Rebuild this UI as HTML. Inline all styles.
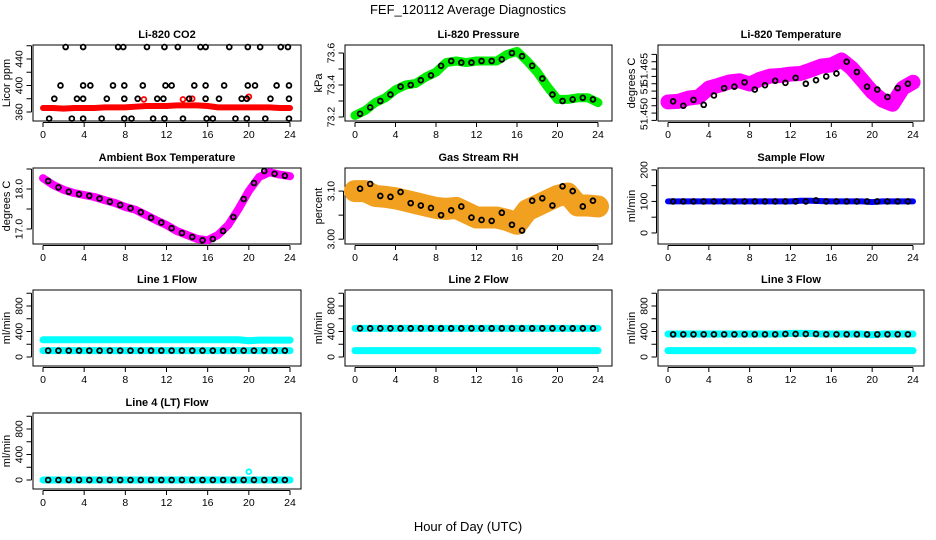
<!DOCTYPE html>
<html><head><meta charset="utf-8">
<style>
html,body{margin:0;padding:0;background:#fff;}
svg{display:block;font-family:"Liberation Sans",sans-serif;}
</style></head>
<body>
<svg id="chart" width="936" height="540" viewBox="0 0 936 540" xmlns="http://www.w3.org/2000/svg">
<text x="468" y="14" text-anchor="middle" font-size="13">FEF_120112  Average Diagnostics</text>
<text x="468" y="531" text-anchor="middle" font-size="13">Hour of Day (UTC)</text>
</svg>
<script>
// ---- data ----
const hours = [0,1,2,3,4,5,6,7,8,9,10,11,12,13,14,15,16,17,18,19,20,21,22,23,24];
const halfHours = [0.5,1.5,2.5,3.5,4.5,5.5,6.5,7.5,8.5,9.5,10.5,11.5,12.5,13.5,14.5,15.5,16.5,17.5,18.5,19.5,20.5,21.5,22.5,23.5];
const xTicks = [0,4,8,12,16,20,24];

const co2Dense = [366,366,365,366,366,366,367,367,367,368,369,369,369,370,370,370,369,367,367,367,367,367,367,366,366];
const co2RedTimes = [9.8,13.6,14.5,20.0];
const co2RedValues = [379,379,380,383];
const co2BlackTimes = [2.2,3.9,7.3,7.8,10.1,11.8,13.1,15.3,15.8,18.1,19.9,21.1,23.1,23.8,
 1.7,3.9,4.6,6.8,7.9,9.7,11.9,12.5,14.7,15.8,17.6,19.9,20.6,22.7,23.9,
 1.1,3.3,3.9,6.2,7.9,9.2,11.1,11.7,14.2,15.8,17.1,19.3,19.8,22.1,23.9,
 0.6,2.8,3.9,5.7,7.9,8.6,10.7,11.8,13.6,15.9,16.5,18.7,19.8,21.6,23.9];
const co2BlackValues = [458,458,458,458,458,458,458,458,458,458,458,458,458,458,
 400,400,400,400,400,400,400,400,400,400,400,400,400,400,400,
 380,380,380,380,380,380,380,380,380,380,380,380,380,380,380,
 350,350,350,350,350,350,350,350,350,350,350,350,350,350,350];

const presDense = [73.21,73.24,73.29,73.32,73.37,73.40,73.41,73.45,73.48,73.54,73.55,73.54,73.55,73.55,73.55,73.59,73.61,73.55,73.48,73.39,73.31,73.31,73.32,73.32,73.29];
const presBlack = [73.22,73.26,73.30,73.34,73.39,73.40,73.43,73.46,73.52,73.55,73.54,73.54,73.55,73.55,73.56,73.60,73.58,73.52,73.44,73.34,73.30,73.31,73.32,73.31];

const tempDense = [51.4538,51.4540,51.4551,51.4555,51.4585,51.4595,51.4606,51.4610,51.4599,51.4615,51.4626,51.4628,51.4633,51.4635,51.4647,51.4660,51.4664,51.4681,51.4653,51.4613,51.4572,51.4544,51.4530,51.4585,51.4605];
const tempBlack = [51.4540,51.4525,51.4545,51.4528,51.4560,51.4585,51.4590,51.4605,51.4580,51.4595,51.4610,51.4603,51.4620,51.4600,51.4612,51.4625,51.4635,51.4675,51.4640,51.4590,51.4580,51.4555,51.4585,51.4600];

const ambDense = [18.27,18.1,17.98,17.9,17.85,17.8,17.72,17.65,17.55,17.48,17.35,17.22,17.1,16.95,16.85,16.75,16.72,16.85,17.1,17.5,17.95,18.3,18.42,18.36,18.32];
const ambBlack = [18.2,18.04,17.93,17.87,17.83,17.76,17.68,17.6,17.52,17.42,17.28,17.16,17.02,16.9,16.8,16.72,16.75,16.95,17.3,17.75,18.15,18.45,18.38,18.33];

const rhDense = [3.10,3.10,3.09,3.088,3.085,3.08,3.075,3.07,3.065,3.063,3.065,3.055,3.045,3.045,3.045,3.04,3.032,3.06,3.07,3.08,3.09,3.095,3.07,3.07,3.068];
const rhBlack = [3.105,3.115,3.09,3.088,3.098,3.075,3.07,3.065,3.05,3.06,3.068,3.045,3.04,3.038,3.055,3.03,3.018,3.08,3.085,3.07,3.11,3.10,3.068,3.08];

const sampleDense = [100,100,100,100,100,100,100,100,100,100,100,100,100,102,102,101,100,100,100,100,98,100,100,100,100];
const sampleBlack = [100,100,100,100,100,100,100,100,100,100,100,100,100,100,103,100,100,100,100,100,100,100,100,100];

const line1CyanA = [270,270,270,270,270,270,270,270,270,270,270,270,270,270,270,270,270,270,270,270,255,265,265,265,265];
const line1CyanB = [100,100,100,100,100,100,100,100,100,100,100,100,100,100,100,100,100,100,100,100,100,100,100,100,100];
const line1Black = [100,100,100,100,100,100,100,100,100,100,100,100,100,100,100,100,100,100,100,100,100,100,100,100];
const line2CyanA = [450,450,450,450,450,450,450,450,450,450,450,450,450,450,450,450,450,450,450,450,450,450,450,450,450];
const line2CyanB = [100,100,100,100,100,100,100,100,100,100,100,100,100,100,100,100,100,100,100,100,100,100,100,100,100];
const line2Black = [450,450,450,450,450,450,450,450,450,450,450,450,450,450,450,450,450,450,450,450,450,450,450,450];
const line3CyanA = [360,360,360,360,360,360,360,360,360,360,360,360,370,370,370,360,360,360,360,360,350,360,360,360,360];
const line3CyanB = [100,100,100,100,100,100,100,100,100,100,100,100,100,100,100,100,100,100,100,100,100,100,100,100,100];
const line3Black = [355,355,355,355,355,355,355,355,355,355,355,360,360,360,360,355,355,355,355,355,355,355,355,355];
const line4Cyan = [0,0,0,0,0,0,0,0,0,0,0,0,0,0,0,0,0,0,0,0,0,0,0,0,0];
const line4Black = [0,0,0,0,0,0,0,0,0,0,0,0,0,0,0,0,0,0,0,0,0,0,0,0];
const line4SpikeTimes = [20];
const line4SpikeValues = [130];

// ---- layout ----
const NS = "http://www.w3.org/2000/svg";
const svg = document.getElementById('chart');
const cols = [{bx:33,bw:268,x0:43,x24:290},{bx:345,bw:267,x0:355,x24:598},{bx:658,bw:266,x0:668,x24:913}];
const rows = [45,168,290,413];
const BH = 76;

function mk(tag, attrs, parent){
  const e = document.createElementNS(NS, tag);
  for (const k in attrs) e.setAttribute(k, attrs[k]);
  (parent||svg).appendChild(e);
  return e;
}

function panel(cfg){
  const c = cols[cfg.col], top = rows[cfg.row];
  const g = mk('g', {});
  
  
  const xs = t => c.x0 + (c.x24 - c.x0) * t / 24;
  const ys = v => top + BH - (v - cfg.ylo) / (cfg.yhi - cfg.ylo) * BH;
  const box = mk('rect', {x:c.bx, y:top, width:c.bw, height:BH, fill:'none', stroke:'#000', 'stroke-width':1}, g);
  
  
  const title = mk('text', {x:c.bx + c.bw/2, y:top - 7, 'text-anchor':'middle', 'font-size':11, 'font-weight':'bold'}, g);
  title.textContent = cfg.title;
  
  
  const xa = mk('g', {}, g);
  
  
  mk('line', {x1:xs(0), x2:xs(24), y1:top+BH+1.5, y2:top+BH+1.5, stroke:'#000'}, xa);
  xTicks.forEach(t => {
    mk('line', {x1:xs(t), x2:xs(t), y1:top+BH+1.5, y2:top+BH+6, stroke:'#000'}, xa);
    const tx = mk('text', {x:xs(t), y:top+BH+17, 'text-anchor':'middle', 'font-size':10.5}, xa);
    tx.textContent = t;
    
    
  });
  const ya = mk('g', {}, g);
  
  
  const ax = c.bx - 1.5;
  mk('line', {x1:ax, x2:ax, y1:ys(cfg.yticks[0]), y2:ys(cfg.yticks[cfg.yticks.length-1]), stroke:'#000'}, ya);
  cfg.yticks.forEach(v => mk('line', {x1:ax-5, x2:ax, y1:ys(v), y2:ys(v), stroke:'#000'}, ya));
  cfg.ylabels.forEach((lab, i) => {
    const yy = cfg.ylabelPos ? cfg.ylabelPos[i] : ys(cfg.ylabelVals[i]);
    const tx = mk('text', {x:ax-9, y:yy, 'text-anchor':'middle', 'font-size':10.5, transform:`rotate(-90 ${ax-9} ${yy})`}, ya);
    tx.textContent = lab;
    
    
  });
  const yl = mk('text', {x:c.bx-23, y:top+BH/2, 'text-anchor':'middle', 'font-size':11, transform:`rotate(-90 ${c.bx-23} ${top+BH/2})`}, ya);
  yl.textContent = cfg.ylab;
  
  
  const sg = mk('g', {}, g);
  
  
  (cfg.dense||[]).forEach(d => {
    const pts = d.t.map((t,i) => xs(t)+','+ys(d.v[i])).join(' ');
    const pl = mk('polyline', {points:pts, fill:'none', stroke:d.color, 'stroke-width':d.w, 'stroke-linejoin':'round', 'stroke-linecap':'round'}, sg);
    
    
  });
  (cfg.points||[]).forEach(d => {
    d.t.forEach((t,i) => {
      const ci = mk('circle', {cx:xs(t), cy:ys(d.v[i]), r:d.r||2.4, fill:'none', stroke:d.color, 'stroke-width':d.sw||1.8}, sg);
      
      
    });
  });
}

const flowTicks = [0,200,400,600,800,1000];
const flowLabels = ['0','400','800'];
const flowLabelVals = [0,400,800];

panel({name:'panel-co2', col:0, row:0, title:'Li-820 CO2', ylab:'Licor ppm', ylo:346.4, yhi:461.1,
  yticks:[360,380,400,420,440,460], ylabels:['360','400','440'], ylabelVals:[360,400,440],
  dense:[{t:hours, v:co2Dense, color:'#ff0000', w:6}],
  points:[{t:co2RedTimes, v:co2RedValues, color:'#ff0000'},{t:co2BlackTimes, v:co2BlackValues, color:'#000'}]});

panel({name:'panel-pressure', col:1, row:0, title:'Li-820 Pressure', ylab:'kPa', ylo:73.175, yhi:73.65,
  yticks:[73.2,73.3,73.4,73.5,73.6], ylabels:['73.2','73.4','73.6'], ylabelVals:[73.2,73.4,73.6],
  dense:[{t:hours, v:presDense, color:'#00ee00', w:9}],
  points:[{t:halfHours, v:presBlack, color:'#000'}]});

panel({name:'panel-li820-temperature', col:2, row:0, title:'Li-820 Temperature', ylab:'degrees C', ylo:51.4473, yhi:51.4732,
  yticks:[51.4475,51.450,51.4525,51.455,51.4575,51.460,51.4625,51.465,51.4675,51.470],
  ylabels:['51.450','51.','51.465'], ylabelPos:[114,87,69],
  dense:[{t:hours, v:tempDense, color:'#ff00ff', w:15}],
  points:[{t:halfHours, v:tempBlack, color:'#000'}]});

panel({name:'panel-ambient-box-temperature', col:0, row:1, title:'Ambient Box Temperature', ylab:'degrees C', ylo:16.625, yhi:18.525,
  yticks:[17.0,17.5,18.0,18.5], ylabels:['17.0','18.0'], ylabelVals:[17.0,18.0],
  dense:[{t:hours, v:ambDense, color:'#ff00ff', w:8}],
  points:[{t:halfHours, v:ambBlack, color:'#000'}]});

panel({name:'panel-gas-stream-rh', col:1, row:1, title:'Gas Stream RH', ylab:'percent', ylo:2.99, yhi:3.148,
  yticks:[3.00,3.05,3.10], ylabels:['3.00','3.10'], ylabelVals:[3.00,3.10],
  dense:[{t:hours, v:rhDense, color:'#f2a020', w:22}],
  points:[{t:halfHours, v:rhBlack, color:'#000'}]});

panel({name:'panel-sample-flow', col:2, row:1, title:'Sample Flow', ylab:'ml/min', ylo:-35, yhi:206,
  yticks:[0,50,100,150,200], ylabels:['0','100','200'], ylabelVals:[0,100,200],
  dense:[{t:hours, v:sampleDense, color:'#0000ff', w:6}],
  points:[{t:halfHours, v:sampleBlack, color:'#000'}]});

panel({name:'panel-line1-flow', col:0, row:2, title:'Line 1 Flow', ylab:'ml/min', ylo:-141, yhi:1051,
  yticks:flowTicks, ylabels:flowLabels, ylabelVals:flowLabelVals,
  dense:[{t:hours, v:line1CyanA, color:'#00ffff', w:7},{t:hours, v:line1CyanB, color:'#00ffff', w:7}],
  points:[{t:halfHours, v:line1Black, color:'#000'}]});

panel({name:'panel-line2-flow', col:1, row:2, title:'Line 2 Flow', ylab:'ml/min', ylo:-141, yhi:1051,
  yticks:flowTicks, ylabels:flowLabels, ylabelVals:flowLabelVals,
  dense:[{t:hours, v:line2CyanA, color:'#00ffff', w:7},{t:hours, v:line2CyanB, color:'#00ffff', w:7}],
  points:[{t:halfHours, v:line2Black, color:'#000'}]});

panel({name:'panel-line3-flow', col:2, row:2, title:'Line 3 Flow', ylab:'ml/min', ylo:-141, yhi:1051,
  yticks:flowTicks, ylabels:flowLabels, ylabelVals:flowLabelVals,
  dense:[{t:hours, v:line3CyanA, color:'#00ffff', w:7},{t:hours, v:line3CyanB, color:'#00ffff', w:7}],
  points:[{t:halfHours, v:line3Black, color:'#000'}]});

panel({name:'panel-line4-flow', col:0, row:3, title:'Line 4 (LT) Flow', ylab:'ml/min', ylo:-141, yhi:1051,
  yticks:flowTicks, ylabels:flowLabels, ylabelVals:flowLabelVals,
  dense:[{t:hours, v:line4Cyan, color:'#00ffff', w:7}],
  points:[{t:line4SpikeTimes, v:line4SpikeValues, color:'#00ffff'},{t:halfHours, v:line4Black, color:'#000'}]});
</script>
</body></html>
